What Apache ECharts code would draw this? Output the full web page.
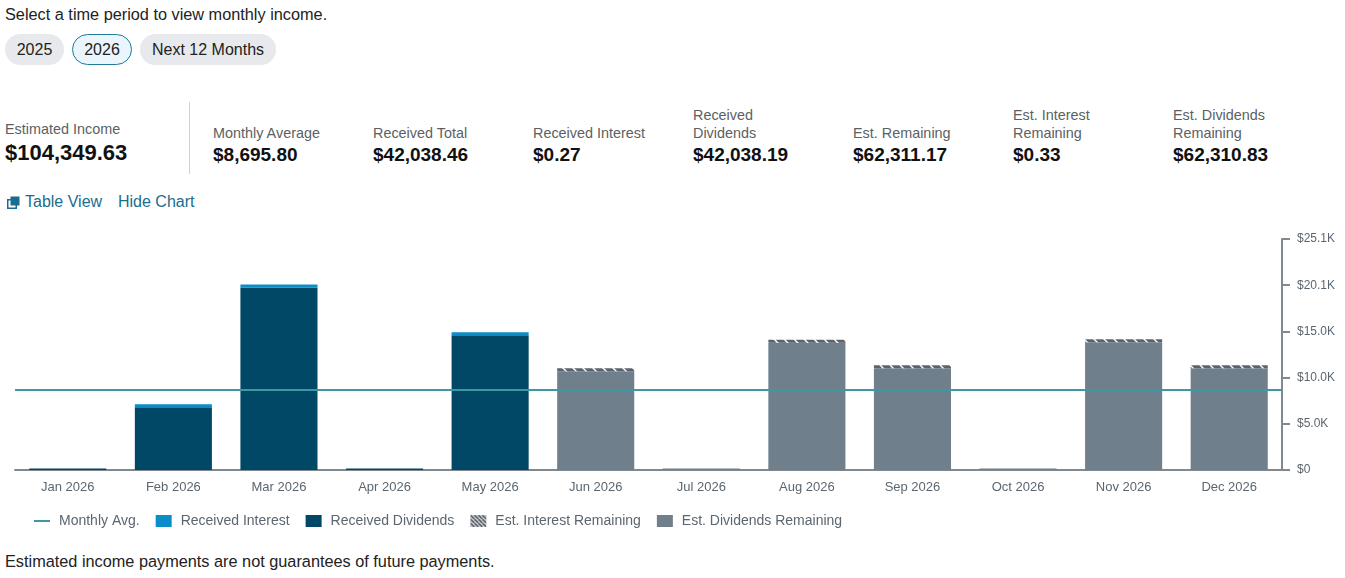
<!DOCTYPE html>
<html>
<head>
    <meta charset="utf-8">
    <title>monthly income</title>
    <style>
        html, body {
            margin: 0;
            padding: 0;
            background: #fff;
        }
        .page {
            position: relative;
            width: 1345px;
            height: 578px;
            overflow: hidden;
            font-family: Arial, "Liberation Sans", sans-serif;
            color: #222;
        }
        .intro {
            position: absolute;
            left: 5px;
            top: 4px;
            font-size: 16.3px;
            line-height: 20px;
        }
        .pill {
            position: absolute;
            top: 34px;
            height: 31px;
            line-height: 31px;
            border-radius: 16px;
            background: #e7e9ec;
            font-size: 16px;
            text-align: center;
            box-sizing: border-box;
            color: #222;
        }
        .pill.active {
            background: #eaf6fb;
            border: 1px solid #1f7a99;
            line-height: 29px;
        }
        .stat {
            position: absolute;
            bottom: 412px;
            white-space: nowrap;
        }
        .stat .lbl {
            font-size: 14.4px;
            line-height: 18px;
            color: #5b5f63;
        }
        .stat .val {
            font-size: 19px;
            line-height: 22px;
            font-weight: bold;
            margin-top: 2px;
            color: #111;
        }
        .stat.big .val {
            font-size: 22px;
            line-height: 24px;
            margin-top: 3px;
        }
        .divider {
            position: absolute;
            left: 189px;
            top: 102px;
            width: 1px;
            height: 72px;
            background: #cfd2d5;
        }
        .links {
            position: absolute;
            left: 7px;
            top: 192px;
            font-size: 16px;
            line-height: 20px;
            color: #1a6d8e;
        }
        .links span { position: absolute; white-space: nowrap; }
        #chart {
            position: absolute;
            left: 0;
            top: 225px;
            width: 1345px;
            height: 310px;
        }
        .note {
            position: absolute;
            left: 5px;
            top: 551px;
            font-size: 16.3px;
            line-height: 20px;
            white-space: nowrap;
        }
    </style>
    <script src="https://cdn.jsdelivr.net/npm/echarts@6/dist/echarts.min.js" charset="utf-8"></script>
</head>
<body>
<div class="page">
    <div class="intro">Select a time period to view monthly income.</div>
    <div class="pill" style="left:5px;width:59px;">2025</div>
    <div class="pill active" style="left:72px;width:60px;">2026</div>
    <div class="pill" style="left:140px;width:136px;">Next 12 Months</div>

    <div class="stat big" style="left:5px;bottom:413px;">
        <div class="lbl">Estimated Income</div>
        <div class="val">$104,349.63</div>
    </div>
    <div class="divider"></div>
    <div class="stat" style="left:213px;">
        <div class="lbl">Monthly Average</div>
        <div class="val">$8,695.80</div>
    </div>
    <div class="stat" style="left:373px;">
        <div class="lbl">Received Total</div>
        <div class="val">$42,038.46</div>
    </div>
    <div class="stat" style="left:533px;">
        <div class="lbl">Received Interest</div>
        <div class="val">$0.27</div>
    </div>
    <div class="stat" style="left:693px;">
        <div class="lbl">Received<br>Dividends</div>
        <div class="val">$42,038.19</div>
    </div>
    <div class="stat" style="left:853px;">
        <div class="lbl">Est. Remaining</div>
        <div class="val">$62,311.17</div>
    </div>
    <div class="stat" style="left:1013px;">
        <div class="lbl">Est. Interest<br>Remaining</div>
        <div class="val">$0.33</div>
    </div>
    <div class="stat" style="left:1173px;">
        <div class="lbl">Est. Dividends<br>Remaining</div>
        <div class="val">$62,310.83</div>
    </div>

    <div class="links">
        <svg width="13" height="13" viewBox="0 0 13 13" style="position:absolute;left:0;top:4px;">
            <rect x="0.75" y="3.75" width="8.5" height="8.5" fill="none" stroke="#1a6d8e" stroke-width="1.5"/>
            <rect x="3.5" y="0.5" width="9" height="9" fill="#1a6d8e"/>
        </svg>
        <span style="left:18px;">Table View</span>
        <span style="left:111px;">Hide Chart</span>
    </div>

    <div id="chart"></div>

    <div class="note">Estimated income payments are not guarantees of future payments.</div>
</div>

<script>
    // chart data
    const months = ['Jan 2026', 'Feb 2026', 'Mar 2026', 'Apr 2026', 'May 2026', 'Jun 2026',
        'Jul 2026', 'Aug 2026', 'Sep 2026', 'Oct 2026', 'Nov 2026', 'Dec 2026'];
    const receivedDividends = [160, 6820, 19830, 160, 14640, null, null, null, null, null, null, null];
    const receivedInterest = [null, 0.09, 0.10, null, 0.08, null, null, null, null, null, null, null];
    const estDividends = [null, null, null, null, null, 10730, 170, 13830, 11060, 170, 13880, 11060];
    const estInterest = [null, null, null, null, null, 0.07, null, 0.07, 0.06, null, 0.07, 0.06];
    const monthlyAvg = 8695.80;
    const yTickLabels = ['$0', '$5.0K', '$10.0K', '$15.0K', '$20.1K', '$25.1K'];
    const yMax = 25100;
    const yStep = 5020;

    // diagonal hatch for the est. interest parts
    function hatch(size, bg, fg, lw) {
        const c = document.createElement('canvas');
        c.width = size;
        c.height = size;
        const ctx = c.getContext('2d');
        ctx.fillStyle = bg;
        ctx.fillRect(0, 0, size, size);
        ctx.strokeStyle = fg;
        ctx.lineWidth = lw;
        ctx.beginPath();
        for (let k = -size; k <= size; k += size) {
            ctx.moveTo(k, 0);
            ctx.lineTo(k + size, size);
        }
        ctx.stroke();
        return {image: c, repeat: 'repeat'};
    }

    const axisGrey = '#80898f';
    const textGrey = '#5b6670';

    echarts.init(document.getElementById('chart')).setOption({
        animation: false,
        grid: {
            left: 15,
            right: 63,
            top: 14,
            bottom: 65,
            outerBoundsMode: 'none'
        },
        legend: {
            left: 28,
            top: 284,
            itemWidth: 16,
            itemHeight: 12,
            itemGap: 16,
            textStyle: {color: textGrey, fontSize: 14, fontFamily: 'Arial', padding: [0, 0, 0, 4]},
            data: [
                {name: 'Monthly Avg.', itemStyle: {opacity: 0}},
                {name: 'Received Interest', icon: 'rect'},
                {name: 'Received Dividends', icon: 'rect'},
                {name: 'Est. Interest Remaining', icon: 'rect',
                    itemStyle: {color: hatch(4, '#e4e6e8', '#4f5860', 1.6)}},
                {name: 'Est. Dividends Remaining', icon: 'rect'}
            ]
        },
        xAxis: {
            type: 'category',
            data: months,
            axisLine: {lineStyle: {color: axisGrey, width: 2}},
            axisTick: {length: 8, lineStyle: {color: axisGrey, width: 2}},
            axisLabel: {color: textGrey, fontSize: 13, fontFamily: 'Arial', margin: 11}
        },
        yAxis: {
            type: 'value',
            position: 'right',
            min: 0,
            max: yMax,
            interval: yStep,
            axisLine: {show: true, lineStyle: {color: axisGrey, width: 2}},
            axisTick: {show: true, length: 8, lineStyle: {color: axisGrey, width: 2}},
            splitLine: {show: false},
            axisLabel: {
                color: textGrey,
                fontSize: 12,
                fontFamily: 'Arial',
                margin: 15,
                formatter: function (v) {
                    return yTickLabels[Math.round(v / yStep)];
                }
            }
        },
        series: [{
            name: 'Monthly Avg.',
            type: 'line',
            symbol: 'none',
            data: [],
            color: '#3d99a1',
            lineStyle: {width: 2},
            markLine: {
                silent: true,
                symbol: 'none',
                label: {show: false},
                lineStyle: {color: '#3d99a1', width: 2, type: 'solid'},
                data: [{yAxis: monthlyAvg}]
            },
            z: 5
        }, {
            name: 'Received Dividends',
            type: 'bar',
            stack: 'income',
            barWidth: '73%',
            color: '#004866',
            data: receivedDividends
        }, {
            name: 'Received Interest',
            type: 'bar',
            stack: 'income',
            barMinHeight: 3,
            color: '#0d8dc8',
            data: receivedInterest
        }, {
            name: 'Est. Dividends Remaining',
            type: 'bar',
            stack: 'income',
            color: '#6f7f8c',
            data: estDividends
        }, {
            name: 'Est. Interest Remaining',
            type: 'bar',
            stack: 'income',
            barMinHeight: 3,
            itemStyle: {color: hatch(10, '#5b646c', '#ffffff', 1.4)},
            data: estInterest
        }]
    }, true);
</script>
</body>
</html>
